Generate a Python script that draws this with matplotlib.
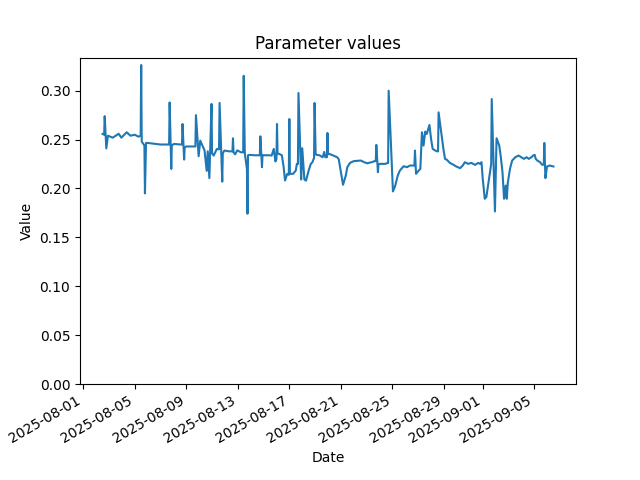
import pandas as pd
import matplotlib
matplotlib.use("Agg")
import matplotlib.pyplot as plt

# values, one line per day in both lists
timestamps = [
    "2025-08-02 12:00", "2025-08-02 15:00", "2025-08-02 16:00", "2025-08-02 19:00", "2025-08-02 22:00",
    "2025-08-03 07:00", "2025-08-03 18:00", "2025-08-03 23:00",
    "2025-08-04 09:00", "2025-08-04 16:00",
    "2025-08-05 00:00", "2025-08-05 07:00", "2025-08-05 11:00", "2025-08-05 12:00", "2025-08-05 13:00", "2025-08-05 18:00", "2025-08-05 19:00", "2025-08-05 21:00",
    "2025-08-06 00:00", "2025-08-06 09:00",
    "2025-08-07 00:00", "2025-08-07 13:00", "2025-08-07 16:00", "2025-08-07 17:00", "2025-08-07 20:00", "2025-08-07 21:00",
    "2025-08-08 01:00", "2025-08-08 13:00", "2025-08-08 16:00", "2025-08-08 17:00", "2025-08-08 20:00", "2025-08-08 21:00",
    "2025-08-09 00:00", "2025-08-09 13:00", "2025-08-09 17:00", "2025-08-09 18:00", "2025-08-09 23:00",
    "2025-08-10 02:00", "2025-08-10 06:00", "2025-08-10 10:00", "2025-08-10 14:00", "2025-08-10 16:00", "2025-08-10 19:00", "2025-08-10 23:00",
    "2025-08-11 00:00", "2025-08-11 03:00", "2025-08-11 09:00", "2025-08-11 13:00", "2025-08-11 14:00", "2025-08-11 19:00", "2025-08-11 20:00", "2025-08-11 23:00",
    "2025-08-12 08:00", "2025-08-12 14:00", "2025-08-12 15:00", "2025-08-12 16:00", "2025-08-12 19:00", "2025-08-12 23:00",
    "2025-08-13 06:00", "2025-08-13 10:00", "2025-08-13 11:00", "2025-08-13 13:00", "2025-08-13 17:00", "2025-08-13 18:00", "2025-08-13 19:00", "2025-08-13 22:00",
    "2025-08-14 07:00", "2025-08-14 17:00", "2025-08-14 18:00", "2025-08-14 21:00", "2025-08-14 22:00",
    "2025-08-15 00:00", "2025-08-15 11:00", "2025-08-15 15:00", "2025-08-15 19:00", "2025-08-15 22:00",
    "2025-08-16 00:00", "2025-08-16 01:00", "2025-08-16 02:00", "2025-08-16 05:00", "2025-08-16 10:00", "2025-08-16 13:00", "2025-08-16 16:00", "2025-08-16 20:00", "2025-08-16 23:00",
    "2025-08-17 00:00", "2025-08-17 01:00", "2025-08-17 03:00", "2025-08-17 07:00", "2025-08-17 12:00", "2025-08-17 14:00", "2025-08-17 16:00", "2025-08-17 17:00", "2025-08-17 22:00",
    "2025-08-18 00:00", "2025-08-18 04:00", "2025-08-18 07:00", "2025-08-18 12:00", "2025-08-18 16:00", "2025-08-18 19:00", "2025-08-18 21:00", "2025-08-18 22:00", "2025-08-18 23:00",
    "2025-08-19 01:00", "2025-08-19 03:00", "2025-08-19 08:00", "2025-08-19 14:00", "2025-08-19 17:00", "2025-08-19 19:00", "2025-08-19 22:00", "2025-08-19 23:00",
    "2025-08-20 00:00", "2025-08-20 02:00", "2025-08-20 07:00", "2025-08-20 17:00", "2025-08-20 20:00", "2025-08-20 23:00",
    "2025-08-21 04:00", "2025-08-21 09:00", "2025-08-21 12:00", "2025-08-21 17:00",
    "2025-08-22 00:00", "2025-08-22 13:00", "2025-08-22 19:00",
    "2025-08-23 01:00", "2025-08-23 10:00", "2025-08-23 15:00", "2025-08-23 17:00", "2025-08-23 18:00", "2025-08-23 21:00", "2025-08-23 22:00",
    "2025-08-24 02:00", "2025-08-24 11:00", "2025-08-24 14:00", "2025-08-24 16:00", "2025-08-24 17:00", "2025-08-24 22:00",
    "2025-08-25 01:00", "2025-08-25 05:00", "2025-08-25 10:00", "2025-08-25 14:00", "2025-08-25 21:00",
    "2025-08-26 03:00", "2025-08-26 09:00", "2025-08-26 15:00", "2025-08-26 17:00", "2025-08-26 18:00", "2025-08-26 20:00",
    "2025-08-27 01:00", "2025-08-27 04:00", "2025-08-27 07:00", "2025-08-27 10:00", "2025-08-27 13:00", "2025-08-27 16:00", "2025-08-27 21:00",
    "2025-08-28 00:00", "2025-08-28 03:00", "2025-08-28 08:00", "2025-08-28 11:00", "2025-08-28 13:00", "2025-08-28 14:00", "2025-08-28 19:00", "2025-08-28 23:00",
    "2025-08-29 02:00", "2025-08-29 05:00", "2025-08-29 11:00", "2025-08-29 17:00", "2025-08-29 23:00",
    "2025-08-30 06:00", "2025-08-30 11:00", "2025-08-30 15:00", "2025-08-30 21:00",
    "2025-08-31 03:00", "2025-08-31 10:00", "2025-08-31 16:00", "2025-08-31 19:00", "2025-08-31 22:00",
    "2025-09-01 00:00", "2025-09-01 04:00", "2025-09-01 07:00", "2025-09-01 11:00", "2025-09-01 14:00", "2025-09-01 16:00", "2025-09-01 17:00", "2025-09-01 23:00",
    "2025-09-02 02:00", "2025-09-02 07:00", "2025-09-02 10:00", "2025-09-02 13:00", "2025-09-02 16:00", "2025-09-02 19:00", "2025-09-02 21:00", "2025-09-02 23:00",
    "2025-09-03 03:00", "2025-09-03 07:00", "2025-09-03 13:00", "2025-09-03 19:00",
    "2025-09-04 00:00", "2025-09-04 05:00", "2025-09-04 10:00", "2025-09-04 14:00", "2025-09-04 19:00", "2025-09-04 22:00",
    "2025-09-05 01:00", "2025-09-05 03:00", "2025-09-05 06:00", "2025-09-05 11:00", "2025-09-05 15:00", "2025-09-05 18:00", "2025-09-05 19:00", "2025-09-05 21:00",
    "2025-09-06 00:00", "2025-09-06 05:00", "2025-09-06 10:00", "2025-09-06 12:00",
]

values = [
    0.2558, 0.255, 0.274, 0.241, 0.254,
    0.252, 0.256, 0.252,
    0.2575, 0.254,
    0.255, 0.253, 0.254, 0.3263, 0.248, 0.244, 0.195, 0.2466,
    0.2466, 0.246,
    0.245, 0.245, 0.245, 0.288, 0.220, 0.244,
    0.2456, 0.245, 0.245, 0.266, 0.2296, 0.242,
    0.243, 0.243, 0.243, 0.275, 0.233,
    0.249, 0.244, 0.239, 0.218, 0.238, 0.2106, 0.2865,
    0.236, 0.2337, 0.2405, 0.240, 0.2875, 0.207, 0.236, 0.2388,
    0.238, 0.238, 0.2514, 0.237, 0.235, 0.239,
    0.237, 0.237, 0.3153, 0.236, 0.220, 0.1742, 0.234, 0.2344,
    0.234, 0.234, 0.2534, 0.2218, 0.234,
    0.234, 0.234, 0.2337, 0.2405, 0.2276,
    0.230, 0.266, 0.236, 0.2354, 0.234, 0.2235, 0.2082, 0.215, 0.214,
    0.2711, 0.215, 0.215, 0.215, 0.2184, 0.2252, 0.225, 0.2977, 0.2092,
    0.2412, 0.2092, 0.208, 0.2184, 0.2252, 0.2269, 0.230, 0.231, 0.2875,
    0.235, 0.2344, 0.234, 0.232, 0.2374, 0.232, 0.232, 0.2568,
    0.235, 0.2354, 0.2344, 0.232, 0.230, 0.220,
    0.2038, 0.213, 0.2218, 0.2262,
    0.228, 0.2286, 0.227,
    0.2258, 0.227, 0.228, 0.228, 0.2446, 0.2167, 0.225,
    0.2252, 0.2252, 0.226, 0.226, 0.300, 0.2344,
    0.197, 0.2024, 0.2133, 0.2184, 0.2228,
    0.2218, 0.2235, 0.2235, 0.2235, 0.2388, 0.215,
    0.2184, 0.220, 0.2575, 0.2439, 0.2582, 0.2558, 0.265,
    0.2507, 0.2405, 0.2388, 0.238, 0.238, 0.2779, 0.2575, 0.2405,
    0.2303, 0.2296, 0.2262, 0.2245, 0.2225,
    0.2208, 0.2235, 0.2269, 0.2252,
    0.2262, 0.2242, 0.2262, 0.2252, 0.2269,
    0.2116, 0.1895, 0.1912, 0.2065, 0.2184, 0.225, 0.2915, 0.1765,
    0.2514, 0.244, 0.232, 0.217, 0.1895, 0.203, 0.1895, 0.206,
    0.220, 0.2286, 0.232, 0.2337,
    0.232, 0.2303, 0.232, 0.2303, 0.232, 0.2337,
    0.2344, 0.2303, 0.2286, 0.2269, 0.2242, 0.2245, 0.2466, 0.2106,
    0.2225, 0.2235, 0.2228, 0.2225,
]

dates = pd.to_datetime(timestamps)

fig, ax = plt.subplots(figsize=(6.4, 4.8), dpi=100)
ax.plot(dates, values)
ax.set_ylim(bottom=0)
ax.set_title("Parameter values")
ax.set_xlabel("Date")
ax.set_ylabel("Value")
fig.autofmt_xdate()

fig.savefig("out.png", dpi=100)
